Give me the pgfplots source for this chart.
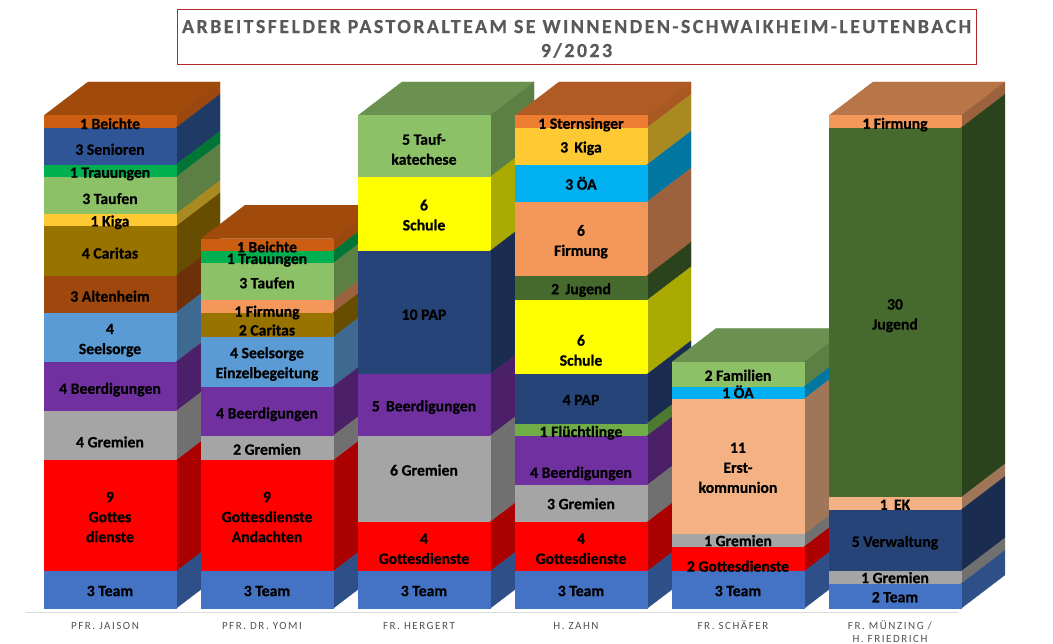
\documentclass[border=0pt]{standalone}
\usepackage{pgfplots}
\pgfplotsset{compat=1.18}
\usepackage{fontspec}
\setmainfont{Carlito}
\newfontfamily\labelfont[BoldFeatures={FakeBold=0.7}]{Carlito}
\newfontfamily\tickfont[LetterSpace=14]{Carlito}
\newfontfamily\titlefont[LetterSpace=12,BoldFeatures={FakeBold=0.4}]{Carlito}
\definecolor{Team}{HTML}{4472C4}\definecolor{TeamS}{HTML}{2E4F87}
\definecolor{Red}{HTML}{FF0000}\definecolor{RedS}{HTML}{AB0000}
\definecolor{Gray}{HTML}{A5A5A5}\definecolor{GrayS}{HTML}{707070}
\definecolor{Purple}{HTML}{7030A0}\definecolor{PurpleS}{HTML}{4B2069}
\definecolor{Seel}{HTML}{5B9BD5}\definecolor{SeelS}{HTML}{3E6A91}
\definecolor{Alten}{HTML}{9E480E}\definecolor{AltenS}{HTML}{6D3109}
\definecolor{Cari}{HTML}{997300}\definecolor{CariS}{HTML}{664D00}
\definecolor{Kiga}{HTML}{FFC933}\definecolor{KigaS}{HTML}{A98A20}
\definecolor{Tauf}{HTML}{8CC168}\definecolor{TaufS}{HTML}{5C7F44}
\definecolor{Trau}{HTML}{00B050}\definecolor{TrauS}{HTML}{007535}
\definecolor{Seni}{HTML}{2F5597}\definecolor{SeniS}{HTML}{203A66}
\definecolor{Bei}{HTML}{CC5E12}\definecolor{BeiS}{HTML}{9C470D}
\definecolor{Stern}{HTML}{ED7D31}\definecolor{SternS}{HTML}{A85820}
\definecolor{OeA}{HTML}{00B0F0}\definecolor{OeAS}{HTML}{0076A1}
\definecolor{Firm}{HTML}{F4975A}\definecolor{FirmS}{HTML}{9B623D}
\definecolor{Jug}{HTML}{466A2D}\definecolor{JugS}{HTML}{2B431C}
\definecolor{Yel}{HTML}{FFFF00}\definecolor{YelS}{HTML}{A9A900}
\definecolor{Pap}{HTML}{264478}\definecolor{PapS}{HTML}{1A2D50}
\definecolor{Flue}{HTML}{70AD47}\definecolor{FlueS}{HTML}{4B7A30}
\definecolor{EK}{HTML}{F4B183}\definecolor{EKS}{HTML}{9F7658}
\definecolor{TopBrown}{HTML}{A04A0C}
\definecolor{TopGreen}{HTML}{6A9150}
\definecolor{TopOrange}{HTML}{B05A24}
\definecolor{TopFirm}{HTML}{B87547}
\definecolor{TitleRed}{HTML}{B02A2A}
\tikzset{seglabel/.style={font=\labelfont\bfseries\fontsize{15.7}{20}\selectfont, align=center, text=black, inner sep=0pt}}
\def\hw{0.4204}\def\dx{0.2803}\def\dy{2.72}
\newcommand\ph{\vphantom{Ä}}
% starts a bar at category #1 with total height #2, top face colour #3
\newcommand\startbar[3]{%
  \pgfmathsetmacro\cx{#1}%
  \pgfmathsetmacro\xL{#1-\hw}\pgfmathsetmacro\xR{#1+\hw}%
  \pgfmathsetmacro\xLb{\xL+\dx}\pgfmathsetmacro\xRb{\xR+\dx}%
  \pgfmathsetmacro\yT{#2}\pgfmathsetmacro\yTb{#2+\dy}%
  \addplot[fill=#3,draw=#3,line width=0.2pt,forget plot] coordinates {(\xL,\yT) (\xR,\yT) (\xRb,\yTb) (\xLb,\yTb)} -- cycle;
  \global\let\cury\yT
  \gdef\pending{}}
% segment: height, front colour, side colour, label, label shift
\newcommand\seg[5]{%
  \pgfmathsetmacro\yt{\cury}\pgfmathsetmacro\yb{\cury-#1}%
  \pgfmathsetmacro\ytb{\yt+\dy}\pgfmathsetmacro\ybb{\yb+\dy}%
  \pgfmathsetmacro\ym{(\yt+\yb)/2}%
  \addplot[fill=#3,draw=#3,line width=0.2pt,forget plot] coordinates {(\xR,\yb) (\xRb,\ybb) (\xRb,\ytb) (\xR,\yt)} -- cycle;
  \addplot[fill=#2,draw=#2,line width=0.2pt,forget plot] coordinates {(\xL,\yb) (\xR,\yb) (\xR,\yt) (\xL,\yt)} -- cycle;
  \xdef\pending{\unexpanded\expandafter{\pending}\noexpand\node[seglabel,yshift=#5pt] at (axis cs:\cx,\ym) {\unexpanded{#4}};}%
  \global\let\cury\yb}
\newcommand\finishbar{\pending}
\begin{document}
\begin{tikzpicture}
\useasboundingbox (0,0) rectangle (1053pt,644pt);
\begin{axis}[
  at={(0pt,0pt)}, anchor=south west,
  scale only axis, width=1053pt, height=644pt,
  xmin=-0.7006, xmax=6.0064, ymin=-2.880, ymax=49.371,
  axis x line=bottom, axis y line=none, axis line style={draw=none},
  clip=false,
  xtick={0,1,2,3,4,5},
  major tick length=0pt,
  xticklabels={\ph PFR. JAISON,\ph PFR. DR. YOMI,\ph FR. HERGERT,\ph H. ZAHN,\ph FR. SCHÄFER,{\ph FR. MÜNZING /\\H. FRIEDRICH}},
  xticklabel style={font=\tickfont\fontsize{11}{13}\selectfont, text=black!68, align=center, yshift=27pt, xshift=-5pt},
  every axis title shift=0pt,
  title={\rule{0pt}{18pt}ARBEITSFELDER PASTORALTEAM SE WINNENDEN-SCHWAIKHEIM-LEUTENBACH\\9/2023},
  title style={at={(0.5475,0.9433)}, anchor=center, draw=TitleRed, line width=0.9pt, minimum width=799pt, minimum height=55pt, inner sep=0pt, align=center, text=black!65, font=\titlefont\bfseries\fontsize{20}{24}\selectfont},
]
\addplot[color=black!15, line width=0.8pt, forget plot] coordinates {(-0.5350,-0.3) (5.4,-0.3)};
% Pfr. Jaison
\startbar{0}{40}{TopBrown}
\seg{1}{Bei}{BeiS}{1 Beichte}{-2}
\seg{3}{Seni}{SeniS}{3 Senioren}{-3}
\seg{1}{Trau}{TrauS}{1 Trauungen}{-3}
\seg{3}{Tauf}{TaufS}{3 Taufen}{-3}
\seg{1}{Kiga}{KigaS}{1 Kiga}{-2}
\seg{4}{Cari}{CariS}{4 Caritas}{-2}
\seg{3}{Alten}{AltenS}{3 Altenheim}{-2}
\seg{4}{Seel}{SeelS}{4\\Seelsorge}{-3}
\seg{4}{Purple}{PurpleS}{4 Beerdigungen}{-3}
\seg{4}{Gray}{GrayS}{4 Gremien}{-6}
\seg{9}{Red}{RedS}{9\\Gottes\\dienste}{-1}
\seg{3}{Team}{TeamS}{3 Team}{-1}
\finishbar
% Pfr. Dr. Yomi
\startbar{1}{30}{TopBrown}
\seg{1}{Bei}{BeiS}{1 Beichte}{-2}
\seg{1}{Trau}{TrauS}{1 Trauungen}{-3}
\seg{3}{Tauf}{TaufS}{3 Taufen}{-1}
\seg{1}{Firm}{FirmS}{1 Firmung}{-6}
\seg{2}{Cari}{CariS}{2 Caritas}{-5}
\seg{4}{Seel}{SeelS}{4 Seelsorge\\Einzelbegeitung}{-2}
\seg{4}{Purple}{PurpleS}{4 Beerdigungen}{-3}
\seg{2}{Gray}{GrayS}{2 Gremien}{-1}
\seg{9}{Red}{RedS}{9\\Gottesdienste\\Andachten}{-1}
\seg{3}{Team}{TeamS}{3 Team}{-1}
\finishbar
% Fr. Hergert
\startbar{2}{40}{TopGreen}
\seg{5}{Tauf}{TaufS}{5 Tauf-\\katechese}{-3}
\seg{6}{Yel}{YelS}{6\\Schule}{-1}
\seg{10}{Pap}{PapS}{10 PAP}{-2}
\seg{5}{Purple}{PurpleS}{5\, Beerdigungen}{-2}
\seg{7}{Gray}{GrayS}{6 Gremien}{9}
\seg{4}{Red}{RedS}{4\\Gottesdienste}{-2}
\seg{3}{Team}{TeamS}{3 Team}{-1}
\finishbar
% H. Zahn
\startbar{3}{40}{TopOrange}
\seg{1}{Stern}{SternS}{1 Sternsinger}{-3}
\seg{3}{Kiga}{KigaS}{3\, Kiga}{-2}
\seg{3}{OeA}{OeAS}{3 ÖA}{0}
\seg{6}{Firm}{FirmS}{6\\Firmung}{-3}
\seg{2}{Jug}{JugS}{2\, Jugend}{-2}
\seg{6}{Yel}{YelS}{6\\Schule}{-13}
\seg{4}{Pap}{PapS}{4 PAP}{-1}
\seg{1}{Flue}{FlueS}{1 Flüchtlinge}{-3}
\seg{4}{Purple}{PurpleS}{4 Beerdigungen}{-13}
\seg{3}{Gray}{GrayS}{3 Gremien}{0}
\seg{4}{Red}{RedS}{4\\Gottesdienste}{-2}
\seg{3}{Team}{TeamS}{3 Team}{-1}
\finishbar
% Fr. Schäfer
\startbar{4}{20}{TopGreen}
\seg{2}{Tauf}{TaufS}{2 Familien}{-1}
\seg{1}{OeA}{OeAS}{1 ÖA}{1}
\seg{11}{EK}{EKS}{11\\Erst-\\kommunion}{-1}
\seg{1}{Gray}{GrayS}{1 Gremien}{0}
\seg{2}{Red}{RedS}{2 Gottesdienste}{-7}
\seg{3}{Team}{TeamS}{3 Team}{-1}
\finishbar
% Fr. Münzing / H. Friedrich
\startbar{5}{40}{TopFirm}
\seg{1}{Firm}{FirmS}{1 Firmung}{-3}
\seg{30}{Jug}{JugS}{30\\Jugend}{-3}
\seg{1}{EK}{EKS}{1\, EK}{-1}
\seg{5}{Pap}{PapS}{5 Verwaltung}{-2}
\seg{1}{Gray}{GrayS}{1 Gremien}{0}
\seg{2}{Team}{TeamS}{2 Team}{-1}
\finishbar
\end{axis}
\end{tikzpicture}
\end{document}
